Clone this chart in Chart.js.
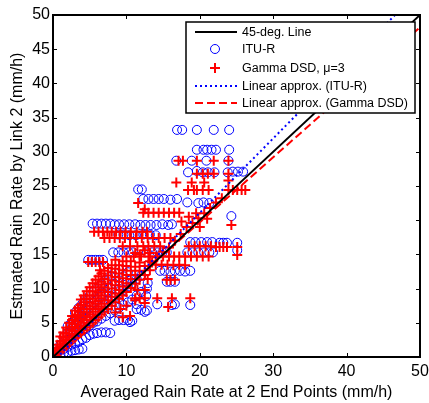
<!DOCTYPE html>
<html>
<head>
<meta charset="utf-8">
<script src="https://cdn.jsdelivr.net/npm/chart.js@4.4.1/dist/chart.umd.min.js"></script>
<style>
  html, body { margin: 0; padding: 0; background: #fff; }
</style>
</head>
<body>
<canvas id="rain" width="429" height="403"></canvas>
<script>
// rain rate estimated by link 2 vs averaged rate at both end points (mm/h)
const ituPoints = [
  // upper scatter
  [16.9,33.2],[17.6,33.2],[19.6,33.2],[21.9,33.2],[24.0,33.2],
  [19.6,30.3],[20.5,30.3],[21.0,30.3],[21.6,30.3],[22.2,30.3],[24.0,30.3],
  [16.8,28.7],[18.9,28.7],[20.9,28.7],[23.9,28.7],
  [18.4,27.0],[19.6,27.2],[20.4,27.0],[21.1,27.0],[22.0,27.0],[23.8,27.0],[24.5,27.1],[25.2,27.1],[25.9,27.1],
  [11.6,24.5],[12.1,24.5],
  [12.3,23.1],[13.0,23.1],[13.7,23.1],[14.4,23.1],[15.1,23.1],[16.0,23.0],[16.9,23.1],
  [18.3,22.6],[19.8,22.5],[20.5,22.6],[21.3,22.5],
  [24.3,20.6],
  [5.4,19.5],[6.0,19.5],[6.6,19.5],[7.2,19.5],[7.8,19.5],[8.4,19.4],[9.0,19.4],[9.7,19.4],[10.4,19.4],
  [11.2,19.4],[11.9,19.3],[12.6,19.3],[13.3,19.3],[14.1,19.3],[14.9,19.4],[15.7,19.3],[16.2,19.4],
  [8.9,17.9],[9.6,17.9],[10.4,17.8],[11.3,17.8],[12.3,17.9],[13.2,17.9],[14.0,17.8],
  [18.7,16.8],[19.4,16.8],[20.2,16.8],[21.0,16.8],[21.7,16.8],[22.7,16.7],[23.2,16.7],[23.7,16.7],[25.1,16.7],[25.1,15.6],
  [8.2,15.3],[8.9,15.3],[9.6,15.3],[10.3,15.3],[10.9,15.3],[12.8,15.3],[13.5,15.3],[14.2,15.3],[14.9,15.3],[15.5,15.3],
  [18.3,15.3],[19.0,15.3],[19.8,15.3],[20.6,15.3],[21.3,15.3],[21.8,15.3],
  [4.8,14.2],[5.3,14.2],[5.8,14.2],[6.3,14.2],[6.8,14.2],
  [14.6,12.6],[15.2,12.6],[16.0,12.5],[16.6,12.6],[17.3,12.6],[18.0,12.5],[18.7,12.6],
  [12.9,10.8],[15.5,11.0],[16.0,11.0],[16.6,11.0],
  [12.7,8.9],
  [11.4,7.7],[14.2,7.7],[16.2,7.6],[16.6,7.7],[18.7,7.6],
  [12.5,6.6],[10.5,5.1],
  // dense cluster at low rates
  [0.5,0.2],[0.5,0.8],
  [1.0,0.4],[1.0,1.0],[1.0,1.8],
  [1.5,0.6],[1.5,1.2],[1.5,2.2],[1.5,3.0],
  [2.0,0.7],[2.0,1.5],[2.0,2.5],[2.0,3.5],[2.0,4.5],
  [2.5,0.9],[2.5,1.8],[2.5,2.8],[2.5,3.8],[2.5,5.0],
  [3.0,1.0],[3.0,2.0],[3.0,3.2],[3.0,4.3],[3.0,5.5],[3.0,6.5],
  [3.5,1.1],[3.5,2.2],[3.5,3.5],[3.5,4.7],[3.5,6.0],[3.5,7.2],
  [4.0,1.2],[4.0,2.6],[4.0,3.9],[4.0,5.2],[4.0,6.5],[4.0,7.8],
  [4.5,2.8],[4.5,4.2],[4.5,5.6],[4.5,7.0],[4.5,8.4],
  [5.0,3.2],[5.0,4.6],[5.0,6.0],[5.0,7.5],[5.0,9.0],
  [5.5,3.4],[5.5,5.0],[5.5,6.5],[5.5,8.0],[5.5,9.5],
  [6.0,3.5],[6.0,5.2],[6.0,6.8],[6.0,8.4],[6.0,10.0],
  [6.6,3.6],[6.6,5.6],[6.6,7.3],[6.6,9.0],[6.6,10.6],
  [7.2,3.6],[7.2,6.0],[7.2,7.8],[7.2,9.5],[7.2,11.2],
  [7.8,3.5],[7.8,6.4],[7.8,8.3],[7.8,10.1],[7.8,11.8],
  [8.4,5.3],[8.4,6.8],[8.4,8.8],[8.4,10.7],[8.4,12.3],
  [9.0,5.4],[9.0,7.2],[9.0,9.3],[9.0,11.2],[9.0,12.8],
  [9.6,5.4],[9.6,7.6],[9.6,9.8],[9.6,11.8],
  [10.2,5.4],[10.2,8.0],[10.2,10.3],[10.2,12.4],
  [10.8,5.3],[10.8,8.4],[10.8,10.8],
  [11.4,7.0],[11.4,9.0],[11.4,11.4],
  [12.0,6.9],[12.0,9.5],[12.0,11.9],
  [12.8,6.8],[12.8,10.0]
];

const gammaPoints = [
  // upper scatter
  [17.1,28.7],[17.7,28.7],[19.6,28.7],[21.9,28.7],[23.9,28.7],
  [19.6,26.8],[20.4,26.8],[21.1,26.8],[21.9,26.8],[23.9,26.8],
  [16.8,25.5],[18.9,25.5],[20.6,25.5],
  [18.4,24.4],[19.2,24.4],[19.6,24.4],[20.4,24.4],[21.2,24.4],[23.9,24.4],[24.5,24.4],[25.1,24.4],[25.7,24.4],[26.2,24.4],[23.9,25.8],
  [11.6,22.5],[12.5,21.6],
  [12.3,21.1],[13.0,21.1],[13.7,21.1],[14.4,21.1],[15.1,21.1],[15.8,21.1],[16.5,21.1],[17.2,21.1],
  [24.3,19.3],
  [13.5,13.8],[14.2,14.6],[15.0,15.4],[15.8,16.0],[16.6,17.0],[17.4,18.0],[18.2,19.0],[19.0,19.6],[19.8,20.3],
  [20.6,21.0],[21.4,21.8],[22.2,22.6],[23.0,23.2],
  [17.5,19.8],[18.5,20.5],[19.5,21.0],[20.0,19.0],[21.0,20.2],
  [5.6,18.3],[6.2,18.3],[6.8,18.3],[7.4,18.3],[8.0,18.3],[8.6,18.3],[9.2,18.3],[9.9,18.3],[10.6,18.3],[11.4,18.3],[12.2,18.3],[12.8,18.3],
  [7.0,17.4],[7.7,17.4],[8.4,17.4],[9.1,17.4],[9.8,17.4],[10.5,17.4],[11.3,17.4],[12.1,17.4],[12.9,17.4],
  [13.6,17.4],[14.4,17.4],[15.2,17.4],[16.0,17.4],
  [9.5,16.2],[10.5,16.2],[11.5,16.2],[12.3,16.2],[13.0,16.2],[13.8,16.2],[14.6,16.2],
  [18.5,16.2],[19.3,16.2],[20.0,16.2],[20.8,16.2],[21.5,16.2],[22.2,16.1],[22.7,16.1],[23.2,16.1],[23.7,16.1],[25.1,16.1],
  [10.0,14.7],[11.0,14.7],[12.0,14.7],[13.0,14.7],[14.0,14.7],[15.0,14.7],[15.8,14.7],[16.5,14.7],[17.2,14.7],
  [18.0,14.7],[18.8,14.7],[19.6,14.7],[20.4,14.7],[21.2,14.7],[25.1,14.9],
  [4.8,13.9],[5.3,13.9],[5.8,13.9],[6.3,13.9],[6.8,13.9],
  [14.0,13.5],[14.8,13.5],[15.6,13.5],[16.4,13.4],[17.2,13.5],[18.0,13.4],
  [6.4,12.7],
  [12.9,11.4],[15.5,11.3],[16.0,11.3],[16.6,11.3],
  [12.5,9.8],
  [11.2,8.6],[11.8,8.6],[12.5,8.6],[14.2,8.6],[16.2,8.6],[18.7,8.6],
  [12.5,7.9],[15.7,7.3],
  [8.5,6.5],[9.2,7.0],[10.0,7.5],[10.5,6.0],[11.2,8.3],[11.5,9.8],[9.5,5.8],
  // dense cluster at low rates
  [0.3,0.3],[0.3,0.8],
  [0.6,0.5],[0.6,1.2],[0.6,1.8],
  [1.0,0.8],[1.0,1.5],[1.0,2.3],[1.0,3.0],
  [1.4,1.2],[1.4,2.0],[1.4,2.8],[1.4,3.6],
  [1.8,1.6],[1.8,2.5],[1.8,3.4],[1.8,4.3],
  [2.2,2.0],[2.2,3.0],[2.2,4.0],[2.2,5.0],
  [2.6,2.4],[2.6,3.4],[2.6,4.4],[2.6,5.4],[2.6,6.0],
  [3.0,2.8],[3.0,3.8],[3.0,4.8],[3.0,5.8],[3.0,6.8],
  [3.4,3.2],[3.4,4.2],[3.4,5.2],[3.4,6.2],[3.4,7.2],
  [3.8,3.5],[3.8,4.6],[3.8,5.6],[3.8,6.6],[3.8,7.6],[3.8,8.4],
  [4.2,3.9],[4.2,5.0],[4.2,6.0],[4.2,7.0],[4.2,8.0],[4.2,9.0],
  [4.6,4.3],[4.6,5.4],[4.6,6.5],[4.6,7.5],[4.6,8.5],[4.6,9.6],
  [5.0,4.6],[5.0,5.8],[5.0,7.0],[5.0,8.0],[5.0,9.0],[5.0,10.2],
  [5.4,5.0],[5.4,6.2],[5.4,7.4],[5.4,8.5],[5.4,9.6],[5.4,10.8],
  [5.8,5.4],[5.8,6.6],[5.8,7.8],[5.8,9.0],[5.8,10.2],[5.8,11.3],
  [6.2,5.8],[6.2,7.0],[6.2,8.2],[6.2,9.4],[6.2,10.6],[6.2,11.8],
  [6.6,6.2],[6.6,7.4],[6.6,8.6],[6.6,9.8],[6.6,11.0],[6.6,12.2],
  [7.0,6.6],[7.0,7.8],[7.0,9.0],[7.0,10.2],[7.0,11.4],[7.0,12.6],
  [7.5,7.0],[7.5,8.3],[7.5,9.5],[7.5,10.7],[7.5,11.9],[7.5,13.0],
  [8.0,7.5],[8.0,8.8],[8.0,10.0],[8.0,11.2],[8.0,12.4],[8.0,13.4],
  [8.5,8.0],[8.5,9.3],[8.5,10.5],[8.5,11.7],[8.5,12.9],[8.5,14.2],
  [9.0,8.5],[9.0,9.8],[9.0,11.0],[9.0,12.2],[9.0,13.4],
  [9.5,9.0],[9.5,10.3],[9.5,11.5],[9.5,12.7],[9.5,14.0],
  [10.0,9.5],[10.0,10.8],[10.0,12.0],[10.0,13.3],
  [10.6,10.1],[10.6,11.4],[10.6,12.6],[10.6,14.0],
  [11.2,10.7],[11.2,12.0],[11.2,13.2],[11.2,15.2],
  [11.8,11.3],[11.8,12.6],[11.8,13.8],[11.8,15.0],
  [12.5,12.0],[12.5,13.3],[12.5,15.6],
  [13.2,12.7],[13.2,14.0],[13.2,15.2]
];

// reference and fitted lines, given by their ends at x = 0 and x = 50
const lineX = [0, 50];
const diagY = [0, 50];
const ituFitY = [-0.65, 53.7];
const gammaFitY = [0.7, 48.2];

const xTickStep = 10;
const yTickStep = 5;

const labels = {
  diag: '45-deg. Line',
  itu: 'ITU-R',
  gamma: 'Gamma DSD, \u03bc=3',
  ituFit: 'Linear approx. (ITU-R)',
  gammaFit: 'Linear approx. (Gamma DSD)'
};

const toXY = pts => pts.map(p => ({ x: p[0], y: p[1] }));
const toLine = ys => lineX.map((x, i) => ({ x, y: ys[i] }));

const FONT = '"Liberation Sans", Arial, sans-serif';

// MATLAB-like box with inward ticks on every side
const axesBox = {
  id: 'axesBox',
  afterDatasetsDraw(chart) {
    const { ctx, chartArea: a, scales } = chart;
    ctx.save();
    ctx.strokeStyle = '#000';
    ctx.lineWidth = 1;
    const len = 4;
    ctx.beginPath();
    scales.x.ticks.forEach(t => {
      const px = Math.round(scales.x.getPixelForValue(t.value)) + 0.5;
      ctx.moveTo(px, a.bottom); ctx.lineTo(px, a.bottom - len);
      ctx.moveTo(px, a.top); ctx.lineTo(px, a.top + len);
    });
    scales.y.ticks.forEach(t => {
      const py = Math.round(scales.y.getPixelForValue(t.value)) + 0.5;
      ctx.moveTo(a.left, py); ctx.lineTo(a.left + len, py);
      ctx.moveTo(a.right, py); ctx.lineTo(a.right - len, py);
    });
    ctx.stroke();
    ctx.lineWidth = 2;
    ctx.strokeRect(a.left, a.top, a.right - a.left, a.bottom - a.top);
    ctx.restore();
  }
};

// boxed legend in the upper right of the axes
const boxLegend = {
  id: 'boxLegend',
  afterDatasetsDraw(chart) {
    const { ctx } = chart;
    const ds = chart.data.datasets;
    const order = ['diag', 'itu', 'gamma', 'ituFit', 'gammaFit'];
    const bx = 186, by = 22, bw = 229, bh = 91;
    ctx.save();
    ctx.fillStyle = '#fff';
    ctx.fillRect(bx, by, bw, bh);
    ctx.strokeStyle = '#000';
    ctx.lineWidth = 1.5;
    ctx.strokeRect(bx, by, bw, bh);
    const rowY = [32, 49, 68, 86, 103];
    order.forEach((key, i) => {
      const d = ds.find(s => s.key === key);
      const y = rowY[i];
      if (d.showLine) {
        ctx.beginPath();
        ctx.strokeStyle = d.borderColor;
        ctx.lineWidth = d.borderWidth;
        ctx.setLineDash(d.borderDash || []);
        ctx.moveTo(195, y);
        ctx.lineTo(237, y);
        ctx.stroke();
        ctx.setLineDash([]);
      } else {
        ctx.fillStyle = 'rgba(0,0,0,0)';
        ctx.strokeStyle = d.pointBorderColor;
        ctx.lineWidth = d.pointBorderWidth;
        Chart.helpers.drawPoint(ctx, {
          pointStyle: d.pointStyle, radius: d.pointRadius, borderWidth: d.pointBorderWidth
        }, 215, y);
      }
      ctx.fillStyle = '#000';
      ctx.font = '12.5px ' + FONT;
      ctx.textBaseline = 'middle';
      ctx.fillText(labels[key], 242, y + 1);
    });
    ctx.restore();
  }
};

new Chart(document.getElementById('rain'), {
  type: 'scatter',
  data: {
    datasets: [
      {
        key: 'itu', data: toXY(ituPoints), showLine: false, order: 5,
        pointStyle: 'circle', pointRadius: 4.5, pointBorderWidth: 1,
        pointBorderColor: '#0000ff', pointBackgroundColor: 'rgba(0,0,0,0)'
      },
      {
        key: 'gamma', data: toXY(gammaPoints), showLine: false, order: 4,
        pointStyle: 'cross', pointRadius: 5, pointBorderWidth: 2,
        pointBorderColor: '#ff0000', pointBackgroundColor: '#ff0000'
      },
      {
        key: 'ituFit', data: toLine(ituFitY), showLine: true, order: 3,
        borderColor: '#0000ff', borderWidth: 2, borderDash: [2, 3], pointRadius: 0
      },
      {
        key: 'gammaFit', data: toLine(gammaFitY), showLine: true, order: 2,
        borderColor: '#ff0000', borderWidth: 2, borderDash: [8, 4], pointRadius: 0
      },
      {
        key: 'diag', data: toLine(diagY), showLine: true, order: 1,
        borderColor: '#000000', borderWidth: 2, pointRadius: 0
      }
    ]
  },
  options: {
    responsive: false,
    animation: false,
    layout: { padding: { top: 15, right: 9, left: 0, bottom: 0 } },
    plugins: { legend: { display: false }, tooltip: { enabled: false } },
    scales: {
      x: {
        type: 'linear', min: 0, max: 50,
        ticks: { stepSize: xTickStep, color: '#000', padding: 5, maxRotation: 0, font: { family: FONT, size: 16 } },
        grid: { display: false, drawTicks: false },
        border: { display: false },
        title: { display: true, text: 'Averaged Rain Rate at 2 End Points (mm/h)', color: '#000',
                 font: { family: FONT, size: 16 }, padding: { top: 0, bottom: 1 } },
        afterFit: s => { s.height = 46; s.paddingLeft = 0; s.paddingRight = 0; }
      },
      y: {
        type: 'linear', min: 0, max: 50,
        ticks: { stepSize: yTickStep, color: '#000', padding: 3, font: { family: FONT, size: 16 } },
        grid: { display: false, drawTicks: false },
        border: { display: false },
        title: { display: true, text: 'Estmated Rain Rate by Link 2 (mm/h)', color: '#000',
                 font: { family: FONT, size: 16 }, padding: { top: 8, bottom: 0 } },
        afterFit: s => { s.width = 53; s.paddingTop = 0; s.paddingBottom = 0; }
      }
    }
  },
  plugins: [axesBox, boxLegend]
});
</script>
</body>
</html>
